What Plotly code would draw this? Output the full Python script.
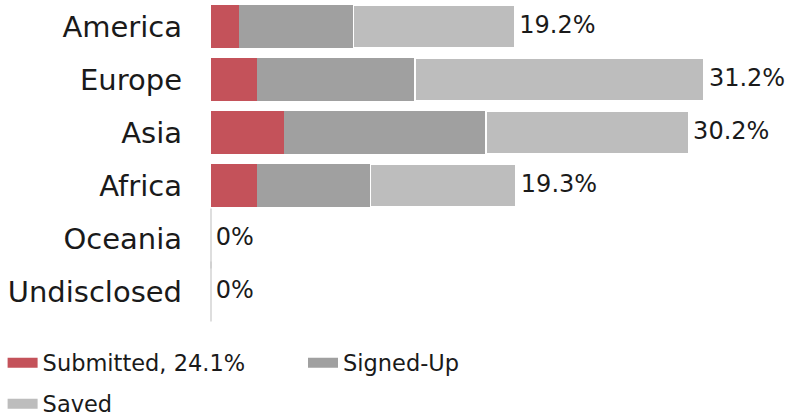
import plotly.graph_objects as go

categories = ["America", "Europe", "Asia", "Africa", "Oceania", "Undisclosed"]
submitted = [1.8, 2.9, 4.6, 2.9, 0, 0]
signed_up = [7.2, 10.0, 12.8, 7.2, 0, 0]
saved = [10.2, 18.3, 12.8, 9.2, 0, 0]
total_labels = ["19.2%", "31.2%", "30.2%", "19.3%", "0%", "0%"]
series_names = ["Submitted, 24.1%", "Signed-Up", "Saved"]

colors = ["#c4525a", "#a0a0a0", "#bdbdbd"]
FONT = "DejaVu Sans"
TXT = "#1a1a1a"

totals = [a + b + c for a, b, c in zip(submitted, signed_up, saved)]

fig = go.Figure()
for vals, name, col, lw in zip([submitted, signed_up, saved], series_names, colors, [0, 0, 1.5]):
    fig.add_trace(go.Bar(
        y=categories, x=vals, orientation="h", name=name,
        marker=dict(color=col, line=dict(color="white", width=lw)),
        showlegend=False, hoverinfo="x+y",
    ))

# thin marker line for zero-value rows
zero_cats = [c for c, t in zip(categories, totals) if t == 0]
fig.add_trace(go.Scatter(
    y=zero_cats, x=[0] * len(zero_cats), mode="markers",
    marker=dict(symbol="line-ns-open", size=43, color="#c8c8c8", line=dict(color="#c8c8c8", width=1.2)),
    showlegend=False, hoverinfo="skip", cliponaxis=False,
))

# total labels
fig.add_trace(go.Scatter(
    y=categories, x=totals, mode="text", text=["\u2009" + t for t in total_labels],
    textposition="middle right", textfont=dict(family=FONT, size=24, color=TXT),
    showlegend=False, hoverinfo="skip", cliponaxis=False,
))

# legend entries
legend_ids = ["legend", "legend2", "legend3"]
for name, col, lid in zip(series_names, colors, legend_ids):
    fig.add_trace(go.Scatter(
        x=[None], y=[None], mode="lines", name=name,
        line=dict(color=col, width=13), legend=lid,
    ))

leg_common = dict(orientation="h", xref="container", yref="container",
                  xanchor="left", yanchor="middle", itemwidth=30,
                  font=dict(family=FONT, size=22.5, color=TXT),
                  bgcolor="rgba(0,0,0,0)")

fig.update_layout(
    width=789, height=419, autosize=False,
    margin=dict(l=211, r=9, t=0, b=101, autoexpand=False),
    barmode="stack", bargap=0.19,
    plot_bgcolor="white", paper_bgcolor="white",
    font=dict(family=FONT, color=TXT),
    xaxis=dict(range=[0, 36], visible=False, fixedrange=True, automargin=False),
    yaxis=dict(range=[len(categories) - 0.5, -0.5], showgrid=False, zeroline=False, showline=False,
               ticks="", ticklen=0, tickfont=dict(family=FONT, size=29, color=TXT),
               ticklabelstandoff=28, fixedrange=True, automargin=False),
    legend=dict(x=0.0033, y=(419 - 363) / 419, **leg_common),
    legend2=dict(x=(308 - 5) / 789, y=(419 - 363) / 419, **leg_common),
    legend3=dict(x=0.0033, y=(419 - 404) / 419, **leg_common),
)

fig.write_html("out.html", config={"responsive": False, "displayModeBar": False},
               post_script="document.body.style.margin='0';document.body.style.overflow='hidden';")
